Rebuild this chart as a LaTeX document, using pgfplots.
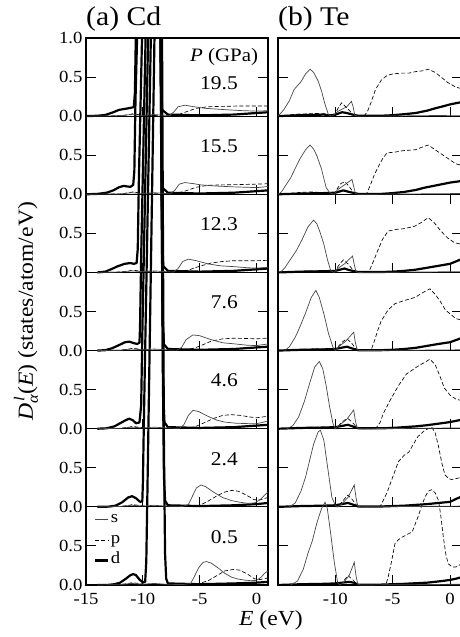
\documentclass[border=0pt]{standalone}
\usepackage{amsmath}
\usepackage{fontspec}
\setmainfont{Liberation Serif}[FakeStretch=1.1]
\usepackage{pgfplots}
\pgfplotsset{compat=1.18}
\pgfplotsset{
  sS/.style={black!72, line width=0.7pt},
  sP/.style={black, line width=0.65pt, dash pattern=on 4pt off 2.2pt},
  sD/.style={black, line width=2.2pt, line join=round},
  off/.style={/pgfplots/y filter/.expression={y+#1}},
  panel/.style={
    scale only axis, height=547pt, xmin=-15, xmax=1, ymin=0, ymax=7,
    ytick={0,0.5,1,1.5,2,2.5,3,3.5,4,4.5,5,5.5,6,6.5,7},
    extra y ticks={1,2,3,4,5,6}, extra y tick labels={},
    extra y tick style={grid=major, major grid style={black,line width=1.1pt}},
    xtick pos=bottom,
    major tick length=10pt,
    tick style={black, line width=0.9pt},
    axis line style={line width=1.1pt},
    tick label style={font=\fontsize{17}{18}\selectfont},
    xticklabel style={yshift=-4.5pt},
    /pgf/number format/assume math mode=true,
    unbounded coords=jump,
    title style={at={(rel axis cs:0,1)}, anchor=base west, yshift=6.3pt, inner sep=0pt, font=\fontsize{27}{28}\selectfont},
  },
}
\begin{document}
\begin{tikzpicture}
\useasboundingbox (-86pt,-52pt) rectangle (373pt,585pt);
% ---------------- (a) Cd ----------------
\begin{axis}[panel, at={(0pt,0pt)}, anchor=south west, width=182pt,
  title={(a) Cd},
  xtick={-15,-10,-5,0}, xticklabels={-15,-10,-5,0},
  yticklabels={0.0,0.5,0.0,0.5,0.0,0.5,0.0,0.5,0.0,0.5,0.0,0.5,0.0,0.5,1.0},
  ylabel={$\text{\textit{D}}^{\,\text{\textit{l}}}_{\text{\textit{α}}}$(\textit{E}) (states/atom/eV)},
  ylabel style={at={(axis description cs:-0.33,0.5)}, anchor=center, font=\fontsize{21.5}{22}\selectfont},
  xlabel={\textit{E} (eV)},
  xlabel style={at={(axis description cs:1.016,-0.064)}, anchor=center, font=\fontsize{21.5}{22}\selectfont},
  legend entries={s,p,d},
  legend cell align=left,
  legend image code/.code={\draw[#1] (0pt,0pt) -- (13pt,0pt);},
  legend style={at={(axis cs:-14.3,0.95)}, anchor=north west, draw=none, fill=none, inner sep=0pt,
    font=\fontsize{17}{18}\selectfont, row sep=3.5pt, nodes={text height=10.5pt, text depth=3.5pt, inner sep=1.5pt}},
]
\addlegendimage{sS}
\addlegendimage{sP}
\addlegendimage{sD}
% baseline ticks
\addplot[black, line width=0.9pt] coordinates {
(-10,1)(-10,1.12)(-10,nan)(-5,1)(-5,1.12)(-5,nan)(0,1)(0,1.12)(0,nan)
(-10,2)(-10,2.12)(-10,nan)(-5,2)(-5,2.12)(-5,nan)(0,2)(0,2.12)(0,nan)
(-10,3)(-10,3.12)(-10,nan)(-5,3)(-5,3.12)(-5,nan)(0,3)(0,3.12)(0,nan)
(-10,4)(-10,4.12)(-10,nan)(-5,4)(-5,4.12)(-5,nan)(0,4)(0,4.12)(0,nan)
(-10,5)(-10,5.12)(-10,nan)(-5,5)(-5,5.12)(-5,nan)(0,5)(0,5.12)(0,nan)
(-10,6)(-10,6.12)(-10,nan)(-5,6)(-5,6.12)(-5,nan)(0,6)(0,6.12)};
% ---- d ----
\addplot[sD, off=0] coordinates {(-14,0)(-13,0.002)(-12.5,0.01)(-12,0.03)(-11.5,0.08)(-11.1,0.125)(-10.85,0.14)(-10.6,0.125)(-10.3,0.07)(-10.0,0.035)(-9.8,0.04)(-9.7,0.3)(-9.6,1.2)(-8.45,12)(-8.3,6.5)(-8.15,1.8)(-8.05,0.4)(-7.95,0.08)(-7.8,0.02)(-5,0.01)(-2,0.02)(0,0.03)(1,0.04)};
\addplot[sD, off=1] coordinates {(-14,0)(-13,0.003)(-12.4,0.015)(-11.8,0.06)(-11.3,0.12)(-10.95,0.137)(-10.6,0.11)(-10.25,0.065)(-10.05,0.07)(-10.0,0.3)(-9.9,1.2)(-8.55,12)(-8.4,6.5)(-8.25,1.8)(-8.15,0.4)(-8.05,0.08)(-7.8,0.02)(-5,0.01)(-2,0.02)(0,0.035)(1,0.05)};
\addplot[sD, off=2] coordinates {(-14,0)(-13.2,0.005)(-12.5,0.03)(-12,0.07)(-11.5,0.11)(-11.2,0.128)(-10.9,0.11)(-10.6,0.07)(-10.3,0.08)(-10.15,0.3)(-10.05,1.2)(-8.6,12)(-8.45,6.5)(-8.3,1.8)(-8.2,0.4)(-8.1,0.08)(-7.8,0.02)(-5,0.01)(-2,0.02)(0,0.04)(1,0.05)};
\addplot[sD, off=3] coordinates {(-14,0)(-13.3,0.005)(-12.7,0.03)(-12.1,0.07)(-11.6,0.105)(-11.2,0.115)(-10.8,0.095)(-10.5,0.085)(-10.3,0.1)(-10.25,0.3)(-10.15,1.2)(-8.65,12)(-8.5,6.5)(-8.35,1.8)(-8.25,0.4)(-8.15,0.08)(-7.8,0.02)(-5,0.01)(-2,0.02)(0,0.04)(1,0.05)};
\addplot[sD, off=4] coordinates {(-14,0)(-13.3,0.01)(-12.8,0.04)(-12.2,0.08)(-11.6,0.11)(-11.1,0.12)(-10.8,0.11)(-10.55,0.12)(-10.45,0.3)(-10.35,1.2)(-8.7,12)(-8.55,6.5)(-8.4,1.8)(-8.3,0.4)(-8.2,0.08)(-7.8,0.02)(-5,0.01)(-2,0.02)(0,0.04)(1,0.05)};
\addplot[sD, off=5] coordinates {(-15,0)(-14,0.005)(-13.2,0.02)(-12.6,0.05)(-12.1,0.09)(-11.7,0.107)(-11.1,0.095)(-10.85,0.12)(-10.75,0.3)(-10.65,1.2)(-8.75,12)(-8.6,6.5)(-8.45,1.8)(-8.35,0.4)(-8.25,0.08)(-7.8,0.02)(-5,0.01)(-2,0.02)(0,0.04)(1,0.05)};
\addplot[sD, off=6] coordinates {(-15,0)(-14,0.005)(-13.3,0.015)(-12.6,0.05)(-12.1,0.08)(-11.3,0.1)(-10.8,0.115)(-10.7,0.3)(-10.6,1.2)(-8.8,12)(-8.65,6.5)(-8.5,1.8)(-8.4,0.4)(-8.3,0.08)(-7.8,0.02)(-5,0.01)(-2,0.02)(0,0.04)(1,0.05)};
% ---- p ----
\addplot[sP, off=0] coordinates {(-14,0)(-12,0.005)(-11.3,0.02)(-10.9,0.03)(-10.4,0.02)(-9.8,0.01)(-8,0.005)(-5.5,0.005)(-5,0.02)(-4.2,0.06)(-3.5,0.12)(-2.8,0.18)(-2.0,0.2)(-1.5,0.19)(-0.8,0.14)(-0.2,0.08)(0.3,0.07)(1,0.09)};
\addplot[sP, off=1] coordinates {(-14,0)(-12,0.005)(-11.2,0.02)(-10.9,0.03)(-10.4,0.02)(-9.8,0.01)(-8,0.005)(-5.5,0.005)(-5,0.02)(-4.3,0.07)(-3.5,0.14)(-2.8,0.19)(-2.2,0.21)(-1.6,0.2)(-0.9,0.15)(-0.2,0.09)(0.3,0.09)(1,0.12)};
\addplot[sP, off=2] coordinates {(-14,0)(-12,0.005)(-11.2,0.02)(-10.9,0.03)(-10.4,0.02)(-9.8,0.01)(-8,0.005)(-6,0.005)(-5.5,0.02)(-4.7,0.07)(-3.8,0.13)(-3.0,0.17)(-2.2,0.18)(-1.4,0.17)(-0.6,0.15)(0,0.14)(1,0.16)};
\addplot[sP, off=3] coordinates {(-14,0)(-12,0.005)(-11.2,0.02)(-10.9,0.03)(-10.4,0.02)(-9.8,0.01)(-8,0.005)(-6.5,0.005)(-5.5,0.03)(-4.8,0.07)(-4.0,0.12)(-3.0,0.15)(-2.0,0.158)(-1.0,0.155)(0,0.15)(1,0.16)};
\addplot[sP, off=4] coordinates {(-14,0)(-12,0.005)(-11.2,0.02)(-10.9,0.03)(-10.4,0.02)(-9.8,0.01)(-8,0.005)(-6.8,0.005)(-6,0.03)(-5,0.08)(-4,0.12)(-3,0.14)(-2,0.15)(-1,0.15)(0,0.15)(1,0.155)};
\addplot[sP, off=5] coordinates {(-15,0)(-12,0.005)(-11.2,0.02)(-10.9,0.03)(-10.4,0.02)(-9.8,0.01)(-8,0.005)(-7.2,0.005)(-6.3,0.04)(-5.3,0.09)(-4.3,0.115)(-3,0.12)(-1.5,0.125)(0,0.13)(1,0.135)};
\addplot[sP, off=6] coordinates {(-15,0)(-12,0.005)(-11.2,0.02)(-10.9,0.03)(-10.4,0.02)(-9.8,0.01)(-8,0.005)(-7.2,0.005)(-6.3,0.05)(-5.3,0.1)(-4.3,0.12)(-3,0.125)(-1.5,0.13)(0,0.13)(1,0.13)};
% ---- s ----
\addplot[sS, off=0] coordinates {(-14,0)(-12,0.005)(-11,0.02)(-10,0.01)(-9,0.02)(-8,0.01)(-6.5,0.005)(-5.8,0.02)(-5.5,0.1)(-5.1,0.22)(-4.7,0.29)(-4.4,0.30)(-4.0,0.28)(-3.4,0.22)(-2.8,0.15)(-2.2,0.1)(-1.6,0.075)(-1.0,0.062)(-0.5,0.055)(0,0.06)(0.4,0.1)(0.7,0.15)(1,0.18)};
\addplot[sS, off=1] coordinates {(-14,0)(-12,0.005)(-11,0.02)(-10,0.01)(-9,0.02)(-8,0.01)(-6.5,0.005)(-6.0,0.03)(-5.7,0.12)(-5.3,0.24)(-4.9,0.28)(-4.5,0.26)(-3.8,0.19)(-3.0,0.12)(-2.2,0.08)(-1.5,0.06)(-0.8,0.045)(-0.2,0.05)(0.3,0.09)(0.7,0.15)(1,0.19)};
\addplot[sS, off=2] coordinates {(-14,0)(-12,0.005)(-11,0.02)(-10,0.01)(-9,0.02)(-8,0.01)(-6.8,0.005)(-6.4,0.05)(-6.0,0.17)(-5.6,0.235)(-5.1,0.22)(-4.3,0.16)(-3.5,0.11)(-2.8,0.085)(-1.8,0.07)(-0.5,0.064)(0,0.065)(0.5,0.08)(1,0.1)};
\addplot[sS, off=3] coordinates {(-14,0)(-12,0.005)(-11,0.02)(-10,0.01)(-9,0.02)(-8,0.01)(-7,0.005)(-6.6,0.04)(-6.2,0.14)(-5.6,0.2)(-5.0,0.19)(-4.0,0.14)(-3.0,0.1)(-1.9,0.085)(-0.8,0.068)(0,0.064)(1,0.085)};
\addplot[sS, off=4] coordinates {(-14,0)(-12,0.005)(-11,0.02)(-10,0.01)(-9,0.02)(-8,0.01)(-7.3,0.005)(-6.9,0.05)(-6.5,0.14)(-6.0,0.17)(-5.3,0.15)(-4.3,0.11)(-3.2,0.085)(-1.9,0.073)(-0.8,0.06)(0,0.055)(1,0.065)};
\addplot[sS, off=5] coordinates {(-15,0)(-12,0.005)(-11,0.02)(-10,0.01)(-9,0.02)(-8,0.01)(-7.6,0.005)(-7.2,0.05)(-6.8,0.13)(-6.3,0.15)(-5.5,0.135)(-4.9,0.12)(-3.5,0.105)(-2,0.095)(-0.5,0.088)(0,0.085)(1,0.1)};
\addplot[sS, off=6] coordinates {(-15,0)(-12,0.005)(-11,0.02)(-10,0.01)(-9,0.02)(-8,0.01)(-7.7,0.005)(-7.3,0.05)(-6.9,0.12)(-6.3,0.14)(-5.5,0.12)(-4.5,0.1)(-3,0.085)(-1.5,0.072)(0,0.064)(1,0.07)};
% pressure labels
\node[anchor=east, inner sep=0pt, font=\fontsize{19}{20}\selectfont] at (axis cs:0.14,6.76) {\textit{P} (GPa)};
\node[anchor=east, inner sep=0pt, font=\fontsize{19.5}{20}\selectfont] at (axis cs:-1.64,6.42) {19.5};
\node[anchor=east, inner sep=0pt, font=\fontsize{19.5}{20}\selectfont] at (axis cs:-1.64,5.62) {15.5};
\node[anchor=east, inner sep=0pt, font=\fontsize{19.5}{20}\selectfont] at (axis cs:-1.64,4.62) {12.3};
\node[anchor=east, inner sep=0pt, font=\fontsize{19.5}{20}\selectfont] at (axis cs:-1.64,3.62) {7.6};
\node[anchor=east, inner sep=0pt, font=\fontsize{19.5}{20}\selectfont] at (axis cs:-1.64,2.62) {4.6};
\node[anchor=east, inner sep=0pt, font=\fontsize{19.5}{20}\selectfont] at (axis cs:-1.64,1.61) {2.4};
\node[anchor=east, inner sep=0pt, font=\fontsize{19.5}{20}\selectfont] at (axis cs:-1.64,0.61) {0.5};
\end{axis}
% ---------------- (b) Te ----------------
\begin{axis}[panel, at={(192pt,0pt)}, anchor=south west, width=183.5pt,
  title={(b) Te},
  xtick={-10,-5,0}, xticklabels={-10,-5,0},
  yticklabels={},
]
\addplot[black, line width=0.9pt] coordinates {
(-10,1)(-10,1.12)(-10,nan)(-5,1)(-5,1.12)(-5,nan)(0,1)(0,1.12)(0,nan)
(-10,2)(-10,2.12)(-10,nan)(-5,2)(-5,2.12)(-5,nan)(0,2)(0,2.12)(0,nan)
(-10,3)(-10,3.12)(-10,nan)(-5,3)(-5,3.12)(-5,nan)(0,3)(0,3.12)(0,nan)
(-10,4)(-10,4.12)(-10,nan)(-5,4)(-5,4.12)(-5,nan)(0,4)(0,4.12)(0,nan)
(-10,5)(-10,4.88)(-10,nan)(-5,5)(-5,4.88)(-5,nan)(0,5)(0,4.88)(0,nan)
(-10,6)(-10,6.12)(-10,nan)(-5,6)(-5,6.12)(-5,nan)(0,6)(0,6.12)};
% ---- d ----
\addplot[sD, off=0] coordinates {(-15,0)(-13,0.01)(-11,0.015)(-10,0.02)(-8.8,0.04)(-8.4,0.03)(-8,0.005)(-6,0.005)(-4,0.015)(-2,0.03)(-0.73,0.05)(0,0.065)(0.5,0.08)(1,0.1)};
\addplot[sD, off=1] coordinates {(-15,0)(-13,0.01)(-11,0.015)(-10,0.02)(-8.9,0.05)(-8.5,0.03)(-8,0.005)(-6,0.005)(-4,0.015)(-2,0.035)(-1,0.05)(0,0.064)(0.5,0.1)(1,0.13)};
\addplot[sD, off=2] coordinates {(-15,0)(-13,0.01)(-11,0.015)(-10,0.02)(-8.9,0.05)(-8.5,0.03)(-8,0.005)(-6,0.005)(-5,0.01)(-4,0.02)(-3,0.03)(-2,0.045)(-1,0.065)(0,0.085)(1,0.115)};
\addplot[sD, off=3] coordinates {(-15,0)(-13,0.01)(-11,0.015)(-10,0.02)(-9,0.05)(-8.6,0.03)(-8,0.005)(-6,0.005)(-5,0.01)(-4,0.02)(-3,0.035)(-2,0.06)(-1,0.085)(0,0.107)(1,0.16)};
\addplot[sD, off=4] coordinates {(-15,0)(-13,0.01)(-11,0.015)(-10,0.02)(-9.2,0.05)(-8.8,0.03)(-8,0.005)(-6,0.005)(-5,0.01)(-4,0.02)(-3,0.035)(-2,0.06)(-1,0.085)(0,0.11)(1,0.17)};
\addplot[sD, off=5] coordinates {(-15,0)(-13,0.01)(-11,0.015)(-10,0.02)(-9.3,0.05)(-8.8,0.03)(-8,0.005)(-6,0.005)(-5,0.015)(-4,0.03)(-3,0.055)(-2.2,0.085)(-1,0.12)(0,0.15)(1,0.17)};
\addplot[sD, off=6] coordinates {(-15,0)(-13.5,0.01)(-11,0.02)(-10.5,0.01)(-10,0.02)(-9.4,0.05)(-9,0.04)(-8.5,0.02)(-8,0.005)(-6,0.005)(-5,0.012)(-4,0.025)(-3,0.04)(-2,0.07)(-1.3,0.1)(-0.5,0.13)(0,0.15)(1,0.18)};
% ---- p ----
\addplot[sP, off=0] coordinates {(-15,0)(-13,0.01)(-11,0.02)(-9.9,0.005)(-9.6,0)(-9.3,0.05)(-9.0,0.1)(-8.9,0.12)(-8.5,0.07)(-8.1,0.01)(-7.9,0)(-5.6,0)(-5.4,0.1)(-5.1,0.3)(-4.8,0.53)(-4.5,0.58)(-4.2,0.61)(-3.7,0.65)(-3.3,0.68)(-2.8,0.87)(-2.5,1.0)(-2.2,1.12)(-1.9,1.2)(-1.6,1.22)(-1.3,1.18)(-1.0,1.08)(-0.8,0.88)(-0.58,0.61)(-0.35,0.38)(-0.15,0.27)(0.2,0.23)(0.5,0.23)(1,0.27)};
\addplot[sP, off=1] coordinates {(-15,0)(-13,0.01)(-11,0.02)(-10.1,0.005)(-9.8,0)(-9.5,0.05)(-9.1,0.12)(-8.9,0.15)(-8.5,0.09)(-8.1,0.01)(-7.9,0)(-6.1,0)(-5.9,0.06)(-5.5,0.18)(-5.2,0.3)(-4.8,0.46)(-4.5,0.58)(-4.0,0.66)(-3.6,0.7)(-3.2,0.8)(-2.8,0.9)(-2.2,0.98)(-1.6,1.02)(-1.3,0.95)(-1.0,0.77)(-0.7,0.55)(-0.44,0.41)(-0.1,0.36)(0.15,0.35)(0.5,0.36)(1,0.38)};
\addplot[sP, off=2] coordinates {(-15,0)(-14,0.005)(-12,0.02)(-11,0.02)(-10.2,0.005)(-9.9,0)(-9.6,0.06)(-9.2,0.11)(-8.9,0.13)(-8.5,0.08)(-8.1,0.01)(-7.9,0)(-6.5,0)(-6.1,0.08)(-5.8,0.2)(-5.2,0.37)(-4.5,0.55)(-3.8,0.7)(-2.8,0.8)(-2.2,0.85)(-1.75,0.89)(-1.3,0.82)(-0.9,0.68)(-0.5,0.52)(0,0.43)(0.5,0.38)(1,0.36)};
\addplot[sP, off=3] coordinates {(-15,0)(-14,0.005)(-13,0.015)(-12,0.02)(-11,0.02)(-10.3,0.005)(-10.0,0)(-9.7,0.06)(-9.3,0.12)(-9.0,0.15)(-8.6,0.1)(-8.2,0.02)(-8,0)(-6.9,0)(-6.6,0.12)(-6.3,0.26)(-6.0,0.38)(-5.4,0.52)(-4.8,0.6)(-4,0.64)(-3.05,0.68)(-2.4,0.74)(-1.75,0.79)(-1.3,0.72)(-0.9,0.64)(-0.4,0.52)(0,0.47)(0.5,0.41)(1,0.39)};
\addplot[sP, off=4] coordinates {(-15,0)(-14,0.005)(-13,0.015)(-12,0.02)(-11,0.02)(-10.4,0.005)(-10.1,0)(-9.8,0.07)(-9.5,0.13)(-9.3,0.16)(-8.9,0.11)(-8.4,0.02)(-8.2,0)(-7.1,0)(-6.8,0.1)(-6.3,0.28)(-5.9,0.42)(-5.4,0.53)(-4.7,0.55)(-4,0.56)(-3.1,0.59)(-2.5,0.64)(-1.9,0.7)(-1.4,0.64)(-0.8,0.53)(-0.2,0.44)(0.4,0.38)(1,0.36)};
\addplot[sP, off=5] coordinates {(-15,0)(-14,0.01)(-13,0.025)(-12,0.03)(-11,0.02)(-10.4,0.005)(-10.1,0.0)(-9.8,0.08)(-9.5,0.14)(-9.15,0.16)(-8.8,0.1)(-8.4,0.02)(-8.2,0)(-7.3,0)(-7.0,0.1)(-6.6,0.25)(-6.3,0.34)(-5.9,0.45)(-5.5,0.53)(-4.8,0.54)(-4,0.56)(-3,0.57)(-2.5,0.6)(-1.9,0.63)(-1.4,0.58)(-0.7,0.51)(0,0.44)(0.5,0.39)(1,0.37)};
\addplot[sP, off=6] coordinates {(-15,0)(-14.2,0.01)(-13.5,0.025)(-12.5,0.03)(-11.5,0.035)(-10.9,0.03)(-10.5,0.01)(-10.2,0.0)(-10,0.03)(-9.7,0.12)(-9.45,0.17)(-9.1,0.12)(-8.7,0.06)(-8.4,0.01)(-8.2,0)(-7.5,0)(-7.2,0.06)(-6.9,0.17)(-6.5,0.34)(-6.0,0.46)(-5.5,0.52)(-5,0.54)(-4.3,0.55)(-3.6,0.55)(-3,0.57)(-2.4,0.58)(-1.9,0.6)(-1.3,0.56)(-0.7,0.49)(-0.2,0.43)(0.4,0.38)(1,0.35)};
% ---- s ----
\addplot[sS, off=0] coordinates {(-13.9,0)(-13.3,0.05)(-12.8,0.2)(-12.4,0.4)(-12.0,0.57)(-11.6,0.8)(-11.2,0.98)(-10.9,1.06)(-10.7,0.98)(-10.4,0.65)(-10.1,0.3)(-9.8,0.03)(-9.6,0)(-9.3,0.03)(-8.8,0.12)(-8.35,0.29)(-8.2,0.12)(-8.05,0.01)(-7.8,0)(-3,0.005)(1,0.01)};
\addplot[sS, off=1] coordinates {(-14,0)(-13.5,0.05)(-13.0,0.2)(-12.6,0.38)(-12.3,0.56)(-11.9,0.8)(-11.5,0.96)(-11.3,0.98)(-11.0,0.85)(-10.6,0.43)(-10.3,0.12)(-10.0,0.02)(-9.8,0)(-9.5,0.03)(-8.9,0.12)(-8.35,0.28)(-8.2,0.12)(-8.05,0.01)(-7.8,0)(-3,0.005)(1,0.01)};
\addplot[sS, off=2] coordinates {(-14.2,0)(-13.7,0.04)(-13.2,0.15)(-12.7,0.35)(-12.2,0.6)(-11.8,0.79)(-11.4,0.86)(-11.1,0.77)(-10.8,0.55)(-10.5,0.28)(-10.2,0.06)(-10.0,0)(-9.7,0.04)(-9.0,0.12)(-8.4,0.24)(-8.25,0.1)(-8.1,0.01)(-7.9,0)(-3,0.005)(1,0.01)};
\addplot[sS, off=3] coordinates {(-14.4,0)(-14.0,0.05)(-13.5,0.17)(-13.1,0.3)(-12.6,0.48)(-12.1,0.68)(-11.7,0.77)(-11.4,0.68)(-11.0,0.47)(-10.6,0.22)(-10.2,0.04)(-10.0,0)(-9.7,0.05)(-9.1,0.12)(-8.4,0.235)(-8.25,0.1)(-8.1,0.01)(-7.9,0)(-3,0.005)(1,0.01)};
\addplot[sS, off=4] coordinates {(-14.8,0)(-14.4,0.06)(-13.9,0.17)(-13.4,0.28)(-12.9,0.42)(-12.4,0.58)(-11.9,0.67)(-11.6,0.62)(-11.3,0.5)(-11.0,0.36)(-10.7,0.17)(-10.4,0.02)(-10.1,0)(-9.8,0.05)(-9.2,0.11)(-8.5,0.21)(-8.35,0.1)(-8.2,0.01)(-8,0)(-3,0.005)(1,0.01)};
\addplot[sS, off=5] coordinates {(-15,0)(-14.7,0.03)(-14.3,0.12)(-13.9,0.21)(-13.5,0.33)(-13.1,0.45)(-12.6,0.57)(-12.2,0.63)(-11.9,0.58)(-11.6,0.49)(-11.2,0.32)(-10.8,0.085)(-10.5,0.02)(-10.1,0.0)(-9.8,0.06)(-9.2,0.12)(-8.55,0.19)(-8.4,0.1)(-8.25,0.01)(-8,0)(-3,0.005)(1,0.01)};
\addplot[sS, off=6] coordinates {(-15,0)(-14.5,0.08)(-14,0.2)(-13.6,0.34)(-13,0.44)(-12.6,0.54)(-12.2,0.6)(-11.9,0.56)(-11.5,0.45)(-11.2,0.32)(-10.9,0.15)(-10.6,0.02)(-10.3,0.0)(-10.1,0.02)(-9.8,0.06)(-9.4,0.09)(-9.0,0.12)(-8.6,0.19)(-8.45,0.12)(-8.3,0.01)(-8,0)(-6,0)(-3,0.005)(0,0.01)(1,0.01)};
\end{axis}
\end{tikzpicture}
\end{document}
